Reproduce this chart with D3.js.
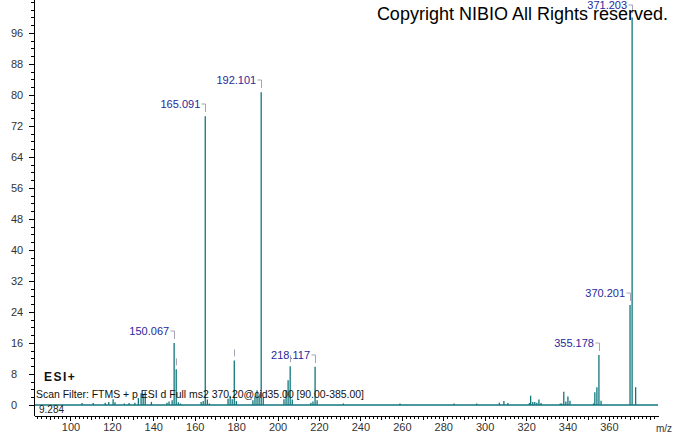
<!DOCTYPE html>
<html>
<head>
<meta charset="utf-8">
<script src="https://cdn.jsdelivr.net/npm/d3@7"></script>
<style>
  body { margin: 0; background: #fff; }
  svg { display: block; font-family: "Liberation Sans", Arial, sans-serif; }
  .peak { stroke: #10767c; stroke-width: 1.3; }
  .plab { fill: #28289a; font-size: 11px; }
  .brk { fill: none; stroke: #a4a4b4; stroke-width: 1; }
  .axis path, .axis line { stroke: #000; shape-rendering: crispEdges; }
  .axis text { fill: #333; font-size: 11px; font-family: "Liberation Sans", Arial, sans-serif; }
</style>
</head>
<body>
<div id="chart"></div>
<script>
// peaks (m/z, relative abundance)
const mz = [105.6, 111.0, 116.8, 118.5, 120.6, 121.5, 126.0, 128.3, 131.1, 132.8,
  134.1, 135.1, 136.1, 139.1, 146.6, 147.6, 149.1, 150.067, 151.07, 152.1,
  153.1, 163.1, 164.1, 165.091, 166.1, 167.1, 176.1, 177.1, 178.1, 179.1,
  180.1, 188.1, 189.1, 190.1, 191.1, 192.101, 193.1, 203.1, 204.1, 205.1,
  206.1, 207.1, 216.1, 217.1, 218.117, 219.1, 231.8, 259.1, 285.2, 296.2,
  307.1, 309.3, 311.2, 321.6, 322.2, 323.2, 324.2, 325.2, 326.2, 327.2,
  336.5, 337.2, 338.2, 339.2, 340.2, 341.2, 352.6, 353.2, 354.2, 355.178,
  356.2, 370.201, 371.203, 372.9];
const intensity = [0.5, 0.5, 0.6, 0.8, 1.5, 0.7, 0.4, 0.5, 0.6, 1.8,
  3.0, 2.6, 3.5, 0.8, 0.6, 0.9, 1.2, 16.0, 9.2, 0.7,
  0.4, 0.8, 1.0, 74.5, 1.4, 0.4, 1.6, 2.4, 1.5, 11.5,
  1.0, 1.2, 2.2, 3.8, 2.8, 80.7, 2.0, 1.5, 3.8, 6.4,
  10.0, 1.4, 0.6, 0.9, 9.9, 1.2, 0.4, 0.4, 0.4, 0.4,
  0.6, 1.0, 0.5, 0.5, 2.4, 0.8, 0.8, 0.6, 1.4, 0.5,
  0.4, 0.4, 3.4, 0.9, 2.2, 1.1, 0.4, 3.3, 4.6, 12.9,
  1.1, 25.8, 100, 4.6];
const labelMz = [150.067, 165.091, 192.101, 218.117, 355.178, 370.201, 371.203];
const markMz = [151.07, 179.1, 206.1];
const xTickLabels = [100, 120, 140, 160, 180, 200, 220, 240, 260, 280, 300, 320, 340, 360];
const yTickLabels = [0, 8, 16, 24, 32, 40, 48, 56, 64, 72, 80, 88, 96];

const W = 674, H = 434;
const svg = d3.select('#chart').append('svg').attr('width', W).attr('height', H);

const x = d3.scaleLinear().domain([82.4, 383.7]).range([34, 658]);
const y = d3.scaleLinear().domain([0, 104.5]).range([405, 0]);
const axisY = 416;

// x axis: minor ticks every 2, medium every 10, labels every 20
svg.append('g').attr('class', 'axis').attr('transform', `translate(0,${axisY})`)
  .call(d3.axisBottom(x).tickValues(d3.range(84, 384, 2)).tickSize(3).tickSizeOuter(0).tickFormat(''));
svg.append('g').attr('class', 'axis').attr('transform', `translate(0,${axisY})`)
  .call(d3.axisBottom(x).tickValues(d3.range(90, 384, 10)).tickSize(4).tickSizeOuter(0).tickFormat(''))
  .call(g => g.select('.domain').remove());
svg.append('g').attr('class', 'axis').attr('transform', `translate(0,${axisY})`)
  .call(d3.axisBottom(x).tickValues(xTickLabels).tickSize(5).tickPadding(2).tickFormat(d3.format('d')))
  .call(g => g.select('.domain').remove());

// y axis: minor every 2, labelled every 8
const yAxisG = svg.append('g').attr('class', 'axis').attr('transform', 'translate(34,0)');
yAxisG.call(d3.axisLeft(y).tickValues(d3.range(0, 105, 2)).tickSize(3).tickSizeOuter(0).tickFormat(''));
yAxisG.select('.domain').attr('d', `M0,0V${axisY}`);
svg.append('g').attr('class', 'axis').attr('transform', 'translate(34,0)')
  .call(d3.axisLeft(y).tickValues(yTickLabels).tickSize(5).tickFormat(d3.format('d')))
  .call(g => g.select('.domain').remove())
  .call(g => g.selectAll('text').attr('text-anchor', 'start').attr('x', -23));

// baseline trace
svg.append('line').attr('class', 'peak')
  .attr('x1', x.range()[0] + 1).attr('x2', x.range()[1])
  .attr('y1', y(0)).attr('y2', y(0));

const peaks = mz.map((m, i) => ({ m, v: intensity[i] }));

svg.append('g').selectAll('line').data(peaks).enter().append('line')
  .attr('class', 'peak')
  .attr('x1', d => x(d.m)).attr('x2', d => x(d.m))
  .attr('y1', y(0)).attr('y2', d => y(d.v));

// labelled peaks with brackets
const labelled = peaks.filter(d => labelMz.includes(d.m));
const lg = svg.append('g').selectAll('g').data(labelled).enter().append('g');
lg.append('path').attr('class', 'brk')
  .attr('d', d => {
    const px = Math.round(x(d.m)) + 0.5, ly = Math.round(y(d.v)) - 12;
    return `M${px - 4},${ly}H${px}V${ly + 8}`;
  });
lg.append('text').attr('class', 'plab')
  .attr('x', d => x(d.m) - 5)
  .attr('y', d => y(d.v) - 12 + 4)
  .attr('text-anchor', 'end')
  .text(d => d.m.toFixed(3));

// marks over peaks whose label was suppressed
const marked = peaks.filter(d => markMz.includes(d.m));
svg.append('g').selectAll('line').data(marked).enter().append('line')
  .attr('class', 'brk')
  .attr('x1', d => Math.round(x(d.m)) + 0.5).attr('x2', d => Math.round(x(d.m)) + 0.5)
  .attr('y1', d => y(d.v) - 11).attr('y2', d => y(d.v) - 4);

// annotations
svg.append('text').attr('x', 668).attr('y', 20).attr('text-anchor', 'end')
  .style('font-size', '18px').style('fill', '#000')
  .text('Copyright NIBIO All Rights reserved.');
svg.append('text').attr('x', 44).attr('y', 381)
  .style('font-size', '12px').style('font-weight', 'bold').style('letter-spacing', '1.5px').style('fill', '#111')
  .text('ESI+');
svg.append('text').attr('x', 36).attr('y', 398)
  .attr('textLength', 328).attr('lengthAdjust', 'spacingAndGlyphs')
  .style('font-size', '11px').style('fill', '#111')
  .text('Scan Filter: FTMS + p ESI d Full ms2 370.20@cid35.00 [90.00-385.00]');
svg.append('text').attr('x', 39).attr('y', 413)
  .style('font-size', '10px').style('fill', '#222')
  .text('9.284');
svg.append('text').attr('x', 656).attr('y', 432)
  .style('font-size', '10px').style('fill', '#333')
  .text('m/z');
</script>
</body>
</html>
